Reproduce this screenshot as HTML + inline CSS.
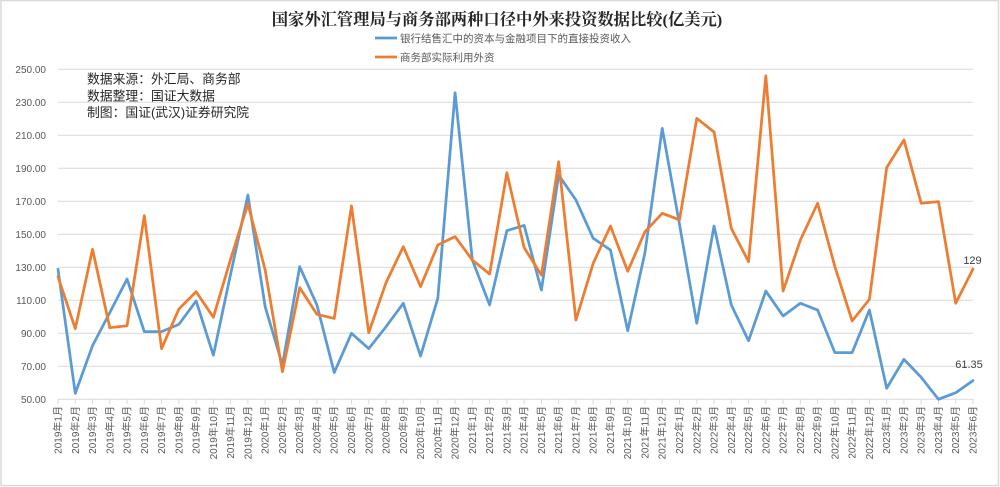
<!DOCTYPE html>
<html><head><meta charset="utf-8">
<style>
html,body{margin:0;padding:0;background:#fff;}
svg{display:block;}
.yl{font-family:"Liberation Sans","Noto Sans CJK SC",sans-serif;font-size:10px;fill:#595959;}
.xl{font-family:"Liberation Sans","Noto Sans CJK SC",sans-serif;font-size:10px;fill:#595959;}
.lg{font-family:"Liberation Sans","Noto Sans CJK SC",sans-serif;font-size:10.5px;fill:#595959;}
.an{font-family:"Liberation Sans","Noto Sans CJK SC",sans-serif;font-size:12.8px;fill:#262626;}
.ti{font-family:"Liberation Serif","Noto Serif CJK SC",serif;font-size:16.3px;font-weight:bold;fill:#262626;}
.dl{font-family:"Liberation Sans","Noto Sans CJK SC",sans-serif;font-size:11px;fill:#404040;}
</style></head>
<body>
<svg width="1000" height="487" viewBox="0 0 1000 487" xmlns="http://www.w3.org/2000/svg">
<rect x="0" y="0" width="1000" height="487" fill="#fff"/>
<rect x="1" y="0.5" width="997.5" height="485" fill="none" stroke="#d9d9d9" stroke-width="1.5"/>

<text class="ti" x="497" y="25" text-anchor="middle">国家外汇管理局与商务部两种口径中外来投资数据比较(亿美元)</text>

<line x1="375" y1="38" x2="397" y2="38" stroke="#5b9bd5" stroke-width="2.75"/>
<text class="lg" x="400" y="42">银行结售汇中的资本与金融项目下的直接投资收入</text>
<line x1="375" y1="57" x2="397" y2="57" stroke="#ed7d31" stroke-width="2.75"/>
<text class="lg" x="400" y="61">商务部实际利用外资</text>

<!-- gridlines -->
<g stroke="#d9d9d9" stroke-width="1">
<line x1="58" y1="69.3" x2="973" y2="69.3"/>
<line x1="58" y1="102.3" x2="973" y2="102.3"/>
<line x1="58" y1="135.3" x2="973" y2="135.3"/>
<line x1="58" y1="168.3" x2="973" y2="168.3"/>
<line x1="58" y1="201.3" x2="973" y2="201.3"/>
<line x1="58" y1="234.3" x2="973" y2="234.3"/>
<line x1="58" y1="267.3" x2="973" y2="267.3"/>
<line x1="58" y1="300.3" x2="973" y2="300.3"/>
<line x1="58" y1="333.3" x2="973" y2="333.3"/>
<line x1="58" y1="366.3" x2="973" y2="366.3"/>
<line x1="58" y1="399.3" x2="973" y2="399.3"/>
</g>

<!-- y labels -->
<g class="yl" text-anchor="end">
<text x="46" y="72.8">250.00</text>
<text x="46" y="105.8">230.00</text>
<text x="46" y="138.8">210.00</text>
<text x="46" y="171.8">190.00</text>
<text x="46" y="204.8">170.00</text>
<text x="46" y="237.8">150.00</text>
<text x="46" y="270.8">130.00</text>
<text x="46" y="303.8">110.00</text>
<text x="46" y="336.8">90.00</text>
<text x="46" y="369.8">70.00</text>
<text x="46" y="402.8">50.00</text>
</g>

<!-- annotation -->
<text class="an" x="87" y="83.5">数据来源：外汇局、商务部</text>
<text class="an" x="87" y="100.5">数据整理：国证大数据</text>
<text class="an" x="87" y="117">制图：国证(武汉)证券研究院</text>

<!-- ticks -->
<g transform="translate(58,0) scale(17.264,1)">
<path vector-effect="non-scaling-stroke" stroke="#d9d9d9" stroke-width="1" fill="none" d="M0,399.3V404M1,399.3V404M2,399.3V404M3,399.3V404M4,399.3V404M5,399.3V404M6,399.3V404M7,399.3V404M8,399.3V404M9,399.3V404M10,399.3V404M11,399.3V404M12,399.3V404M13,399.3V404M14,399.3V404M15,399.3V404M16,399.3V404M17,399.3V404M18,399.3V404M19,399.3V404M20,399.3V404M21,399.3V404M22,399.3V404M23,399.3V404M24,399.3V404M25,399.3V404M26,399.3V404M27,399.3V404M28,399.3V404M29,399.3V404M30,399.3V404M31,399.3V404M32,399.3V404M33,399.3V404M34,399.3V404M35,399.3V404M36,399.3V404M37,399.3V404M38,399.3V404M39,399.3V404M40,399.3V404M41,399.3V404M42,399.3V404M43,399.3V404M44,399.3V404M45,399.3V404M46,399.3V404M47,399.3V404M48,399.3V404M49,399.3V404M50,399.3V404M51,399.3V404M52,399.3V404M53,399.3V404"/>
</g>

<!-- series -->
<g transform="translate(58,399.3) scale(17.264,-1.65) translate(0,-50)">
<polyline vector-effect="non-scaling-stroke" fill="none" stroke="#5b9bd5" stroke-width="2.75" stroke-linejoin="round" stroke-linecap="round"
points="0,128.8 1,53.6 2,82.5 3,102.5 4,122.9 5,91 6,91 7,95.4 8,109.6 9,76.7 10,126 11,173.8 12,106.1 13,70.8 14,130.4 15,107.1 16,66.2 17,90 18,80.7 19,94 20,108.2 21,76.2 22,111.2 23,235.8 24,134.4 25,107.2 26,152.2 27,155.4 28,116.2 29,185.9 30,170.8 31,147.6 32,140.5 33,91.6 34,138.9 35,214.2 36,156 37,96.1 38,155 39,107.2 40,85.5 41,115.6 42,100.5 43,108.2 44,104.1 45,78.3 46,78.3 47,104.1 48,56.7 49,74.2 50,63.3 51,50 52,54 53,61.35"/>
<polyline vector-effect="non-scaling-stroke" fill="none" stroke="#ed7d31" stroke-width="2.75" stroke-linejoin="round" stroke-linecap="round"
points="0,124.3 1,92.8 2,140.9 3,93.4 4,94.6 5,161.3 6,80.7 7,104.7 8,115.2 9,99.7 10,135 11,168.4 12,128.4 13,66.7 14,117.7 15,101.5 16,99 17,167.2 18,90.4 19,120.7 20,142.5 21,118.3 22,143.5 23,148.6 24,134.4 25,125.9 26,187.3 27,141.9 28,125.3 29,194 30,98 31,132.4 32,155 33,127.6 34,151.6 35,162.7 36,158.8 37,220.3 38,212 39,153.6 40,133.4 41,246.1 42,115.6 43,146.5 44,168.8 45,130.4 46,97.5 47,110.6 48,190.4 49,207.2 50,168.8 51,169.8 52,108.2 53,129"/>
</g>

<text class="dl" x="972.5" y="264" text-anchor="middle">129</text>
<text class="dl" x="969" y="368" text-anchor="middle">61.35</text>

<!-- x labels -->
<g class="xl" text-anchor="end">
<text transform="translate(61.5,406) rotate(-90)">2019年1月</text>
<text transform="translate(78.76,406) rotate(-90)">2019年2月</text>
<text transform="translate(96.03,406) rotate(-90)">2019年3月</text>
<text transform="translate(113.29,406) rotate(-90)">2019年4月</text>
<text transform="translate(130.56,406) rotate(-90)">2019年5月</text>
<text transform="translate(147.82,406) rotate(-90)">2019年6月</text>
<text transform="translate(165.08,406) rotate(-90)">2019年7月</text>
<text transform="translate(182.35,406) rotate(-90)">2019年8月</text>
<text transform="translate(199.61,406) rotate(-90)">2019年9月</text>
<text transform="translate(216.88,406) rotate(-90)">2019年10月</text>
<text transform="translate(234.14,406) rotate(-90)">2019年11月</text>
<text transform="translate(251.40,406) rotate(-90)">2019年12月</text>
<text transform="translate(268.67,406) rotate(-90)">2020年1月</text>
<text transform="translate(285.93,406) rotate(-90)">2020年2月</text>
<text transform="translate(303.20,406) rotate(-90)">2020年3月</text>
<text transform="translate(320.46,406) rotate(-90)">2020年4月</text>
<text transform="translate(337.72,406) rotate(-90)">2020年5月</text>
<text transform="translate(354.99,406) rotate(-90)">2020年6月</text>
<text transform="translate(372.25,406) rotate(-90)">2020年7月</text>
<text transform="translate(389.52,406) rotate(-90)">2020年8月</text>
<text transform="translate(406.78,406) rotate(-90)">2020年9月</text>
<text transform="translate(424.04,406) rotate(-90)">2020年10月</text>
<text transform="translate(441.31,406) rotate(-90)">2020年11月</text>
<text transform="translate(458.57,406) rotate(-90)">2020年12月</text>
<text transform="translate(475.84,406) rotate(-90)">2021年1月</text>
<text transform="translate(493.10,406) rotate(-90)">2021年2月</text>
<text transform="translate(510.36,406) rotate(-90)">2021年3月</text>
<text transform="translate(527.63,406) rotate(-90)">2021年4月</text>
<text transform="translate(544.89,406) rotate(-90)">2021年5月</text>
<text transform="translate(562.16,406) rotate(-90)">2021年6月</text>
<text transform="translate(579.42,406) rotate(-90)">2021年7月</text>
<text transform="translate(596.68,406) rotate(-90)">2021年8月</text>
<text transform="translate(613.95,406) rotate(-90)">2021年9月</text>
<text transform="translate(631.21,406) rotate(-90)">2021年10月</text>
<text transform="translate(648.48,406) rotate(-90)">2021年11月</text>
<text transform="translate(665.74,406) rotate(-90)">2021年12月</text>
<text transform="translate(683.00,406) rotate(-90)">2022年1月</text>
<text transform="translate(700.27,406) rotate(-90)">2022年2月</text>
<text transform="translate(717.53,406) rotate(-90)">2022年3月</text>
<text transform="translate(734.80,406) rotate(-90)">2022年4月</text>
<text transform="translate(752.06,406) rotate(-90)">2022年5月</text>
<text transform="translate(769.32,406) rotate(-90)">2022年6月</text>
<text transform="translate(786.59,406) rotate(-90)">2022年7月</text>
<text transform="translate(803.85,406) rotate(-90)">2022年8月</text>
<text transform="translate(821.12,406) rotate(-90)">2022年9月</text>
<text transform="translate(838.38,406) rotate(-90)">2022年10月</text>
<text transform="translate(855.64,406) rotate(-90)">2022年11月</text>
<text transform="translate(872.91,406) rotate(-90)">2022年12月</text>
<text transform="translate(890.17,406) rotate(-90)">2023年1月</text>
<text transform="translate(907.44,406) rotate(-90)">2023年2月</text>
<text transform="translate(924.70,406) rotate(-90)">2023年3月</text>
<text transform="translate(941.96,406) rotate(-90)">2023年4月</text>
<text transform="translate(959.23,406) rotate(-90)">2023年5月</text>
<text transform="translate(976.49,406) rotate(-90)">2023年6月</text>
</g>
</svg>
</body></html>
